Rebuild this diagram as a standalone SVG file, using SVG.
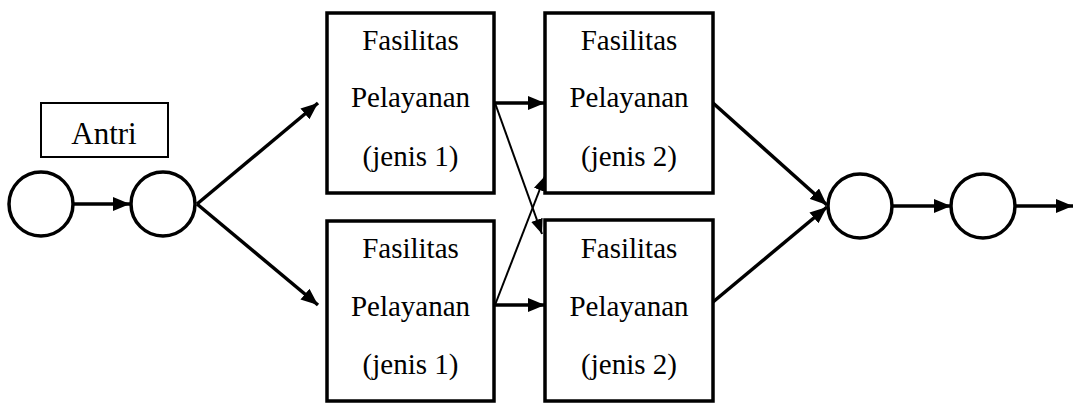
<svg xmlns="http://www.w3.org/2000/svg" width="1074" height="403" viewBox="0 0 1074 403">
<style>
.box{fill:#fff;stroke:#000;stroke-width:3.5}
.circ{fill:#fff;stroke:#000;stroke-width:3.5}
.lbl{font-family:'Liberation Serif','Times New Roman',serif;font-size:29px;fill:#000;text-anchor:middle}
.thick{stroke:#000;stroke-width:3.5;fill:none}
.thin{stroke:#000;stroke-width:2;fill:none}
</style>
<defs>
<marker id="ah" markerUnits="userSpaceOnUse" markerWidth="17" markerHeight="14" refX="17" refY="7" orient="auto">
<path d="M0,0 L17,7 L0,14 Z" fill="#000"/>
</marker>
<marker id="ahs" markerUnits="userSpaceOnUse" markerWidth="15" markerHeight="12" refX="15" refY="6" orient="auto">
<path d="M0,0 L15,6 L0,12 Z" fill="#000"/>
</marker>
</defs>
<g id="connectors">
<line class="thick" x1="74" y1="204" x2="130" y2="204" marker-end="url(#ah)"/>
<line class="thick" x1="197" y1="204" x2="318" y2="103" marker-end="url(#ah)"/>
<line class="thick" x1="197" y1="204" x2="318" y2="305" marker-end="url(#ah)"/>
<line class="thick" x1="495" y1="103" x2="545" y2="103" marker-end="url(#ah)"/>
<line class="thick" x1="495" y1="305" x2="545" y2="305" marker-end="url(#ah)"/>
<line class="thin" x1="495" y1="103" x2="542" y2="234" marker-end="url(#ahs)"/>
<line class="thin" x1="495" y1="305" x2="545" y2="176" marker-end="url(#ahs)"/>
<line class="thick" x1="713" y1="103" x2="827" y2="205" marker-end="url(#ah)"/>
<line class="thick" x1="713" y1="302" x2="827" y2="207" marker-end="url(#ah)"/>
<line class="thick" x1="893" y1="206" x2="951" y2="206" marker-end="url(#ah)"/>
<line class="thick" x1="1016" y1="206" x2="1073" y2="206" marker-end="url(#ah)"/>
</g>
<g id="antri">
<rect class="box" x="41" y="103" width="127" height="54" style="stroke-width:2"/>
<text class="lbl" x="104" y="144" style="font-size:31px">Antri</text>
</g>
<g id="c1"><circle class="circ" cx="41" cy="204" r="32"/></g>
<g id="c2"><circle class="circ" cx="163" cy="204" r="32"/></g>
<g id="c3"><circle class="circ" cx="860" cy="206" r="32"/></g>
<g id="c4"><circle class="circ" cx="983" cy="206" r="32"/></g>
<g id="f1a">
<rect class="box" x="327" y="13" width="167" height="180"/>
<text class="lbl" x="410.5" y="50">Fasilitas</text>
<text class="lbl" x="410.5" y="107">Pelayanan</text>
<text class="lbl" x="410.5" y="166">(jenis 1)</text>
</g>
<g id="f1b">
<rect class="box" x="327" y="221" width="167" height="180"/>
<text class="lbl" x="410.5" y="258">Fasilitas</text>
<text class="lbl" x="410.5" y="316">Pelayanan</text>
<text class="lbl" x="410.5" y="374">(jenis 1)</text>
</g>
<g id="f2a">
<rect class="box" x="545" y="13" width="168" height="180"/>
<text class="lbl" x="629" y="50">Fasilitas</text>
<text class="lbl" x="629" y="107">Pelayanan</text>
<text class="lbl" x="629" y="166">(jenis 2)</text>
</g>
<g id="f2b">
<rect class="box" x="545" y="220" width="168" height="181"/>
<text class="lbl" x="629" y="258">Fasilitas</text>
<text class="lbl" x="629" y="316">Pelayanan</text>
<text class="lbl" x="629" y="374">(jenis 2)</text>
</g>
</svg>
